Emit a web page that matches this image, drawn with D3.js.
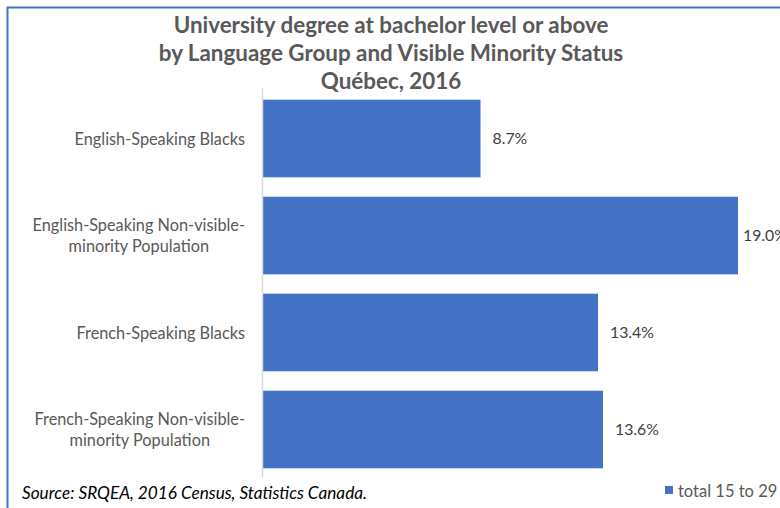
<!DOCTYPE html>
<html>
<head>
<meta charset="utf-8">
<script src="https://cdn.jsdelivr.net/npm/d3@7"></script>
<style>
body { margin: 0; background: #fff; }
svg { display: block; }
.cat_text { font-family: Lato, "Open Sans", sans-serif; font-size: 16.3px; fill: #595959; }
.val_text { font-family: Lato, "Open Sans", sans-serif; font-size: 15.8px; fill: #404040; }
.title_text { font-family: Lato, "Open Sans", sans-serif; font-size: 22.4px; font-weight: bold; fill: #595959; }
.legend_text { font-family: Lato, "Open Sans", sans-serif; font-size: 16.5px; fill: #595959; }
</style>
</head>
<body>
<svg id="chart" width="780" height="508"></svg>
<script>
// データ
const categories = [
    ['English-Speaking Blacks'],
    ['English-Speaking Non-visible-', 'minority Population'],
    ['French-Speaking Blacks'],
    ['French-Speaking Non-visible-', 'minority Population']
];
const values = [8.7, 19.0, 13.4, 13.6];
const series_name = 'total 15 to 29';
const title_lines = [
    'University degree at bachelor level or above',
    'by Language Group and Visible Minority Status',
    'Québec, 2016'
];
const source_text = 'Source: SRQEA, 2016 Census, Statistics Canada.';

const BAR_COLOR = '#4472C4';
const svg = d3.select('#chart');

// 枠線(上と左のみ見える)
svg.append('rect')
    .attr('x', 7.5).attr('y', 7.5)
    .attr('width', 800).attr('height', 600)
    .attr('fill', 'none')
    .attr('stroke', BAR_COLOR)
    .attr('stroke-width', 2);

// タイトル
title_lines.forEach((t, i) => {
    svg.append('text')
        .text(t)
        .attr('x', 391)
        .attr('y', 33 + i * 28)
        .attr('text-anchor', 'middle')
        .attr('class', 'title_text');
});

// スケール
const x = d3.scaleLinear().domain([0, 19]).range([263, 738]);
const y = d3.scaleBand()
    .domain(d3.range(categories.length))
    .range([90, 478])
    .paddingInner(0.2)
    .paddingOuter(0.1);

// 棒
svg.selectAll('rect.bar')
    .data(values)
    .join('rect')
    .attr('class', 'bar')
    .attr('x', x(0))
    .attr('y', (d, i) => y(i))
    .attr('width', d => x(d) - x(0))
    .attr('height', y.bandwidth())
    .attr('fill', BAR_COLOR);

// 縦軸の線
svg.append('line')
    .attr('x1', x(0) - 0.5).attr('x2', x(0) - 0.5)
    .attr('y1', 88).attr('y2', 478)
    .attr('stroke', '#d9d9d9')
    .attr('stroke-width', 1.5);

// 値ラベル(右端ではプロット内に寄せる)
const VAL_MAX_X = 743;
svg.selectAll('text.val')
    .data(values)
    .join('text')
    .attr('class', 'val_text')
    .attr('x', d => Math.min(x(d) + 12, VAL_MAX_X))
    .attr('y', (d, i) => y(i) + y.bandwidth() / 2 + 5)
    .text(d => d.toFixed(1) + '%');

// カテゴリラベル(複数行は中央揃え、ブロックは右寄せ)
const LABEL_RIGHT = 245;
categories.forEach((lines, i) => {
    const g = svg.append('g');
    const texts = lines.map((l, j) => g.append('text')
        .text(l)
        .attr('class', 'cat_text')
        .attr('text-anchor', 'middle')
        .attr('y', y(i) + y.bandwidth() / 2 + 6 - (lines.length - 1) * 10.5 + j * 21));
    const w = d3.max(texts, t => t.node().getComputedTextLength());
    texts.forEach(t => t.attr('x', LABEL_RIGHT - w / 2));
});

// 出典
svg.append('text')
    .text(source_text)
    .attr('x', 22)
    .attr('y', 499)
    .attr('font-family', 'Lato, "Open Sans", sans-serif')
    .attr('font-size', 17.2)
    .attr('font-style', 'italic')
    .attr('fill', '#000');

// 凡例
svg.append('rect')
    .attr('x', 665).attr('y', 486)
    .attr('width', 8).attr('height', 8)
    .attr('fill', BAR_COLOR);
svg.append('text')
    .text(series_name)
    .attr('x', 678)
    .attr('y', 497)
    .attr('class', 'legend_text');
</script>
</body>
</html>
